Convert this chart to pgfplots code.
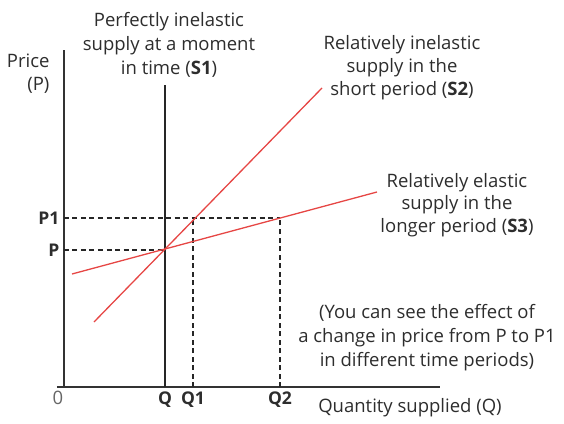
\documentclass[border=0pt]{standalone}
\usepackage{pgfplots}
\pgfplotsset{compat=1.18}
\usepackage{fontspec}
\setmainfont{Open Sans}
\definecolor{sred}{RGB}{230,70,68}
\definecolor{txt}{RGB}{45,45,45}
\begin{document}
\begin{tikzpicture}
\begin{axis}[
  x=1pt, y=1pt,
  xmin=0, xmax=376, ymin=0, ymax=337,
  axis lines=left,
  axis line style={-, line width=1.3pt, color=black!80},
  clip=false,
  xtick={101,129,216},
  xticklabels={Q,Q1,Q2},
  ytick={137,169},
  yticklabels={P,P1},
  major tick length=0pt,
  tick label style={font=\fontsize{17.5}{20}\selectfont\bfseries, text=txt},
  xticklabel style={yshift=-1pt},
  yticklabel style={xshift=-1pt},
  /pgf/number format/assume math mode=true,
]
% bounding box
\path (axis cs:-64,-36) rectangle (axis cs:500,387);
% small extension of x axis
\addplot[black!80, line width=1.3pt] coordinates {(-7,0) (0,0)};
% dashed guide lines
\addplot[black!85, line width=1.2pt, dash pattern=on 5pt off 3.5pt] coordinates {(0,137) (101,137)};
\addplot[black!85, line width=1.2pt, dash pattern=on 5pt off 3.5pt] coordinates {(0,169) (216,169)};
\addplot[black!85, line width=1.2pt, dash pattern=on 5pt off 3.5pt] coordinates {(129,0) (129,169)};
\addplot[black!85, line width=1.2pt, dash pattern=on 5pt off 3.5pt] coordinates {(216,0) (216,169)};
% S1
\addplot[black!85, line width=1.4pt] coordinates {(101,0) (101,302)};
% S2
\addplot[sred, line width=1.3pt] coordinates {(30,65) (258,299)};
% S3
\addplot[sred, line width=1.3pt] coordinates {(8,113) (313,195)};
% texts
\node[font=\fontsize{18.5}{24}\selectfont, text=txt, align=center] at (axis cs:105,342) {Perfectly inelastic\\supply at a moment\\in time (\textbf{S1})};
\node[font=\fontsize{18.5}{23}\selectfont, text=txt, align=right, anchor=east] at (axis cs:-11,313) {Price\\(P)};
\node[font=\fontsize{18.5}{23}\selectfont, text=txt, align=center] at (axis cs:338,319) {Relatively inelastic\\supply in the\\short period (\textbf{S2})};
\node[font=\fontsize{18.5}{22.5}\selectfont, text=txt, align=center] at (axis cs:393,182) {Relatively elastic\\supply in the\\longer period (\textbf{S3})};
\node[font=\fontsize{18.5}{24}\selectfont, text=txt, align=center] at (axis cs:363,49) {(You can see the effect of\\a change in price from P to P1\\in different time periods)};
\node[font=\fontsize{18.5}{20}\selectfont, text=txt] at (axis cs:346,-21) {Quantity supplied (Q)};
\node[font=\fontsize{18.5}{20}\selectfont, text=black!60] at (axis cs:-6,-11) {0};
\end{axis}
\end{tikzpicture}
\end{document}
